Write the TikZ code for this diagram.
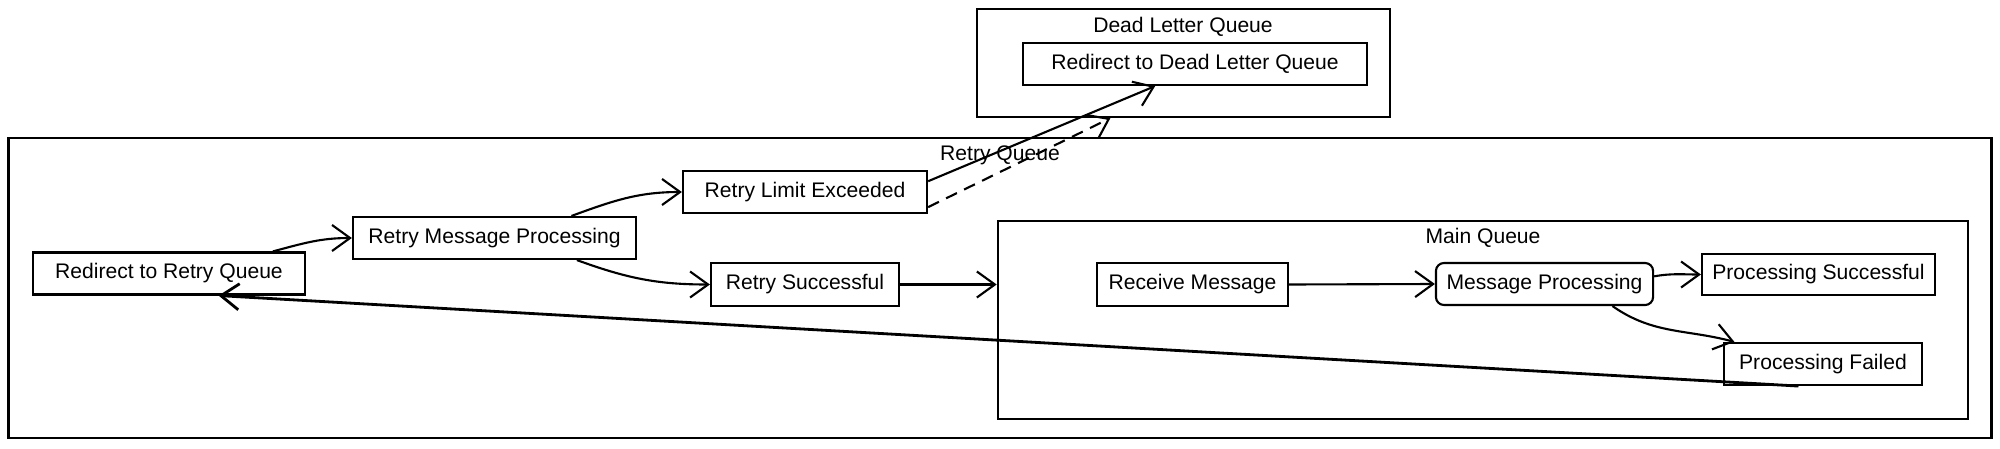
\documentclass[tikz,border=0pt]{standalone}
\usepackage{fontspec}
\setmainfont{Liberation Sans}
\usetikzlibrary{arrows.meta}

\begin{document}
\begin{tikzpicture}[x=0.01cm, y=0.01cm,
  every node/.style={font=\fontsize{6}{7.2}\selectfont},
  box/.style={draw, semithick, inner sep=0pt, minimum height=0.42cm},
  roundbox/.style={box, rounded corners=0.8mm},
  cluster/.style={draw, semithick, inner sep=0pt},
  flow/.style={semithick, -{Straight Barb[length=1.8mm, width=2.6mm]}}]
  \useasboundingbox (0,0) rectangle (2000,448);

  % queues
  \node[cluster, minimum width=4.13cm, minimum height=1.08cm] (dlq) at (1183.5,385) {};
  \node (dlqlabel) at (1183,421) {Dead Letter Queue};
  \node[cluster, thick, minimum width=19.82cm, minimum height=3cm] (retry) at (1000,160) {};
  \node (retrylabel) at (1000,293) {Retry Queue};
  \node[cluster, minimum width=9.7cm, minimum height=1.98cm] (main) at (1483,128) {};
  \node (mainlabel) at (1483,210) {Main Queue};

  % steps
  \node[box, minimum width=3.44cm] (rdlq) at (1195,384) {Redirect to Dead Letter Queue};
  \node[box, minimum width=2.72cm] (rrq) at (169,174.5) {Redirect to Retry Queue};
  \node[box, minimum width=2.83cm] (rmp) at (494.5,210) {Retry Message Processing};
  \node[box, minimum width=2.44cm] (rle) at (805,256) {Retry Limit Exceeded};
  \node[box, minimum width=1.88cm, minimum height=0.43cm] (rs) at (805,163.5) {Retry Successful};
  \node[box, minimum width=1.91cm, minimum height=0.43cm] (rm) at (1192.5,163.5) {Receive Message};
  \node[roundbox, minimum width=2.17cm] (mp) at (1544.5,164) {Message Processing};
  \node[box, minimum width=2.33cm, minimum height=0.41cm] (ps) at (1818.5,173.5) {Processing Successful};
  \node[box, minimum width=1.98cm] (pf) at (1823,84) {Processing Failed};

  % flows
  \draw[flow] (rrq.12) to[out=15, in=180] (rmp.west);
  \draw[flow] (rmp.16) to[out=20, in=180] (rle.west);
  \draw[flow] (rmp.345) to[out=-20, in=180] (rs.west);
  \draw[flow] (rle.5) -- (rdlq.209);
  \draw[flow, dash pattern=on 1.2mm off 0.8mm] (rle.353) -- (dlq.217);
  \draw[flow] (rs.east) -- (rs.east -| main.west);
  \draw[flow] (rm.east) -- (mp.west);
  \draw[flow] (mp.4) to[out=10, in=180] (ps.west);
  \draw[flow] (mp.342) to[out=-35, in=165] (pf.166);
  \draw[flow, thick] (pf.222) -- (rrq.336);
\end{tikzpicture}
\end{document}
